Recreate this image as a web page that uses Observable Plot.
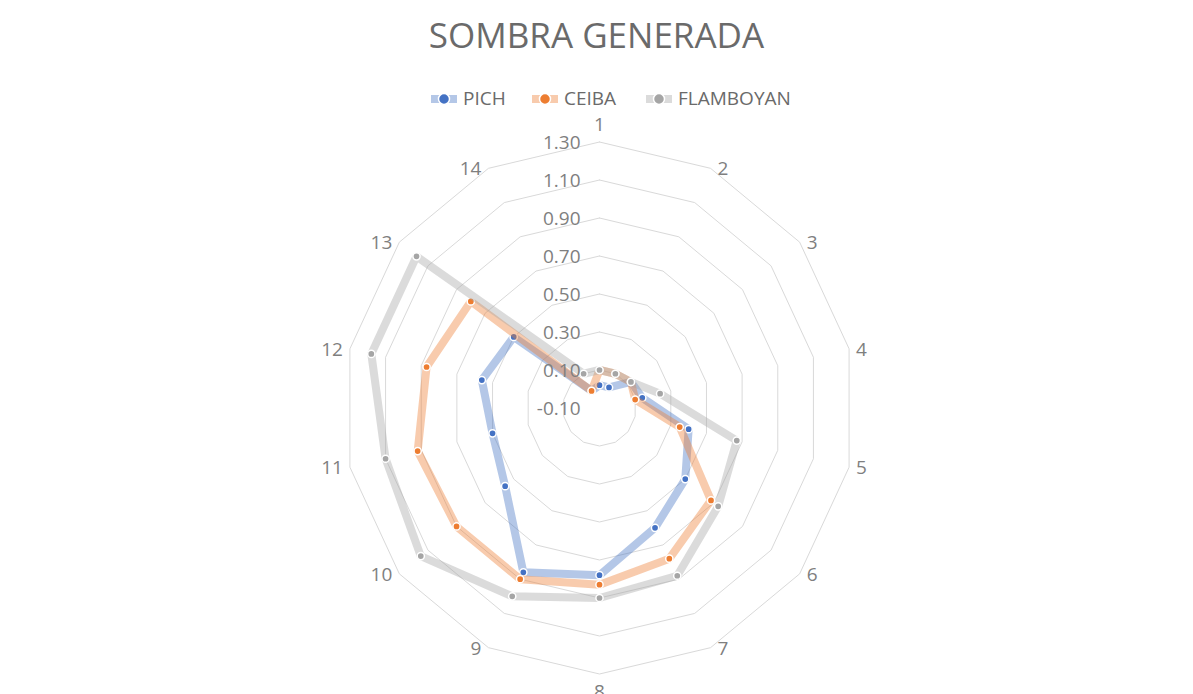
<!DOCTYPE html>
<html>
<head>
<meta charset="utf-8">
<script src="https://cdn.jsdelivr.net/npm/d3@7"></script>
<script src="https://cdn.jsdelivr.net/npm/@observablehq/plot@0.6"></script>
<style>
  html, body { margin: 0; padding: 0; background: #fff; }
  body { width: 1193px; height: 694px; overflow: hidden; font-family: "Open Sans", sans-serif; }
  #hdr { position: relative; width: 1193px; height: 112px; }
  #title { position: absolute; top: 14px; left: 0; width: 1193px; text-align: center; font-size: 35px; line-height: 42px; color: #6a6a6a; }
  .lg { position: absolute; top: 90px; height: 17px; display: flex; align-items: center; font-size: 19px; color: #6a6a6a; line-height: 17px; }
  .lg svg { margin-right: 5px; }
</style>
</head>
<body>
<div id="hdr">
  <div id="title">SOMBRA GENERADA</div>
</div>
<div id="chart"></div>
<script>
// ---- data ----
const categories = ["1","2","3","4","5","6","7","8","9","10","11","12","13","14"];
const seriesNames = ["PICH", "CEIBA", "FLAMBOYAN"];
const seriesColors = ["#4472C4", "#ED7D31", "#A5A5A5"];
const pich      = [0.02, 0.02, 0.12, 0.14, 0.40, 0.50, 0.60, 0.78, 0.86, 0.56, 0.50, 0.56, 0.50, 0.00];
const ceiba     = [0.10, 0.10, 0.12, 0.10, 0.35, 0.68, 0.78, 0.83, 0.90, 0.90, 0.92, 0.87, 0.80, 0.00];
const flamboyan = [0.10, 0.10, 0.12, 0.24, 0.67, 0.73, 0.88, 0.90, 1.00, 1.15, 1.10, 1.18, 1.18, 0.10];
const tickValues = [-0.10, 0.10, 0.30, 0.50, 0.70, 0.90, 1.10, 1.30];
const tickLabels = ["-0.10", "0.10", "0.30", "0.50", "0.70", "0.90", "1.10", "1.30"];

// ---- legend ----
const hdr = document.getElementById("hdr");
const legendPos = [430, 531, 645];
seriesNames.forEach((name, i) => {
  const el = document.createElement("div");
  el.className = "lg";
  el.style.left = legendPos[i] + "px";
  const c = seriesColors[i];
  el.innerHTML = `<svg width="28" height="16"><rect x="1" y="4" width="26" height="8" fill="${c}" fill-opacity="0.4"></rect><circle cx="14" cy="8" r="5.5" fill="${c}" stroke="white" stroke-width="1.5"></circle></svg><span>${name}</span>`;
  hdr.appendChild(el);
});

// ---- geometry helpers (polar -> cartesian in data units) ----
const vmin = tickValues[0], vmax = tickValues[tickValues.length - 1];
const nCat = categories.length;
const ang = i => i * 2 * Math.PI / nCat;
const rho = v => (v - vmin) / (vmax - vmin);

const rings = tickValues.filter(t => t > vmin).flatMap(t =>
  d3.range(nCat + 1).map(i => ({t, x: rho(t) * Math.sin(ang(i % nCat)), y: rho(t) * Math.cos(ang(i % nCat))})));

const seriesValues = [pich, ceiba, flamboyan];
const seriesMarks = seriesValues.flatMap((vals, s) => {
  const pts = vals.map((v, i) => ({cat: categories[i], v, x: rho(v) * Math.sin(ang(i)), y: rho(v) * Math.cos(ang(i))}));
  return [
    Plot.line(pts, {x: "x", y: "y", curve: "linear-closed", stroke: seriesColors[s], strokeOpacity: 0.4, strokeWidth: 8, strokeLinejoin: "miter"}),
    Plot.dot(pts, {x: "x", y: "y", r: 3.6, fill: seriesColors[s], stroke: "white", strokeWidth: 1.5})
  ];
});

const catPts = categories.map((c, i) => ({c, i, x: Math.sin(ang(i)), y: Math.cos(ang(i))}));
const catRight = catPts.filter(d => d.i >= 1 && d.i <= 6);
const catLeft = catPts.filter(d => d.i >= 8);
const catTop = catPts.filter(d => d.i === 0);
const catBottom = catPts.filter(d => d.i === 7);

const W = 1193, H = 582;
const cx = 599, cy = 407.5 - 112, Rx = 256, Ry = 266;
const labelStyle = {fontSize: 19, fill: "#7f7f7f"};

const chart = Plot.plot({
  width: W, height: H, margin: 0,
  style: {fontFamily: "Open Sans, sans-serif", background: "transparent", overflow: "visible"},
  x: {type: "linear", domain: [-1, 1], range: [cx - Rx, cx + Rx], axis: null},
  y: {type: "linear", domain: [-1, 1], range: [cy + Ry, cy - Ry], axis: null},
  marks: [
    Plot.line(rings, {x: "x", y: "y", z: "t", stroke: "#d9d9d9", strokeWidth: 1}),
    ...seriesMarks,
    Plot.text(tickValues, {x: () => 0, y: t => rho(t), text: (t, i) => tickLabels[i], textAnchor: "end", dx: -19, dy: 1, ...labelStyle}),
    Plot.text(catRight, {x: "x", y: "y", text: "c", textAnchor: "start", dx: 7, dy: 1, ...labelStyle}),
    Plot.text(catLeft, {x: "x", y: "y", text: "c", textAnchor: "end", dx: -7, dy: 1, ...labelStyle}),
    Plot.text(catTop, {x: "x", y: "y", text: "c", textAnchor: "middle", dy: -17, ...labelStyle}),
    Plot.text(catBottom, {x: "x", y: "y", text: "c", textAnchor: "middle", dy: 18, ...labelStyle})
  ]
});
document.getElementById("chart").appendChild(chart);
</script>
</body>
</html>
